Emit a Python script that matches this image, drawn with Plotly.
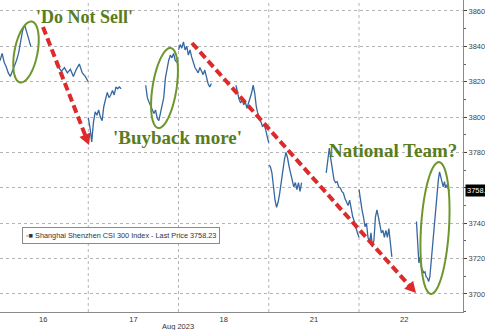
import math
import numpy as np
import plotly.graph_objects as go

# ---- data: CSI 300 intraday, per session (AM 9:30-11:30, PM 13:00-15:00) ----
days = ["16", "17", "18", "21", "22"]

d16_am = [3834, 3832, 3836, 3831, 3828.5, 3825, 3823, 3826, 3828, 3832, 3836, 3842, 3849, 3852, 3848, 3843.6, 3840]
d16_pm = [3830.5, 3828.5, 3826, 3828, 3825, 3827, 3823, 3827, 3830, 3825, 3823, 3820]
d17_am = [3799.5, 3794, 3786, 3797, 3803, 3801, 3804, 3800, 3798, 3806, 3810, 3814, 3811, 3812.5, 3815, 3812.5, 3817, 3816, 3817, 3816]
d17_pm = [3818, 3811, 3808.5, 3806, 3804, 3802, 3804, 3799.5, 3798, 3803, 3806, 3811, 3822, 3828, 3832, 3835, 3833.5, 3836, 3832, 3831, 3832]
d18_am = [3838, 3841, 3839, 3842.5, 3838, 3840, 3835, 3838, 3834, 3830.6, 3828, 3826.6, 3825, 3828, 3825.6, 3824, 3826.6, 3822, 3819, 3817, 3819]
d18_pm = [3818, 3813.6, 3810, 3808, 3810, 3807, 3808.6, 3805, 3808, 3810, 3813.6, 3818, 3813.6, 3806, 3802, 3800, 3797, 3794.5, 3795.6, 3793, 3789, 3785.5]
d21_am = [3773, 3772, 3768.5, 3760.5, 3753, 3749, 3752, 3757, 3764.5, 3771, 3776, 3780, 3777, 3772, 3768.5, 3764.5, 3760.5, 3763, 3759, 3763, 3758, 3763]
d21_pm = [3768.5, 3776, 3782.5, 3776, 3768.5, 3764.5, 3763, 3763.5, 3760.5, 3760, 3758, 3757, 3754, 3752, 3750, 3753, 3747.5, 3743.5, 3741, 3737, 3734.5, 3732]
d22_am = [3759, 3751.5, 3747.5, 3743.5, 3738, 3740, 3732, 3729, 3734.5, 3726.5, 3730.5, 3743.5, 3747.5, 3743.5, 3738, 3734.5, 3736, 3732, 3736, 3732, 3737, 3729, 3721]
d22_pm = [3741, 3729, 3717.5, 3721, 3715, 3713.5, 3712, 3712.5, 3709.6, 3709, 3707, 3709.6, 3717.5, 3725, 3736, 3743.5, 3751.5, 3759, 3764.5, 3769, 3765.6, 3763, 3760.5, 3763.5, 3760, 3761.7, 3759.5, 3758.23]

sessions = [d16_am, d16_pm, d17_am, d17_pm, d18_am, d18_pm, d21_am, d21_pm, d22_am, d22_pm]
last_price = 3758.23
y_ticks = [3700, 3720, 3740, 3760, 3780, 3800, 3820, 3840, 3860]
y_ticklabels = ["3700", "3720", "3740", "", "3780", "3800", "3820", "3840", "3860"]

# trading hours since 9:30: AM 0-2h, PM 3.5-5.5h; each day spans 5.5h = 1 unit
xs, ys = [], []
for i, s in enumerate(sessions):
    d = i // 2
    t0, t1 = (0.0, 2.0) if i % 2 == 0 else (3.5, 5.5)
    t = np.linspace(t0, t1, len(s))
    xs += list(d + t / 5.5) + [None]
    ys += list(s) + [None]

fig = go.Figure()
fig.add_trace(go.Scatter(x=xs, y=ys, mode="lines",
                         line=dict(color="#3567a0", width=1.3),
                         showlegend=False, hoverinfo="skip"))

# ---- layout geometry helpers (plot area in pixels) ----
W_PLOT, H_PLOT = 463, 312
def px(x):
    return x / W_PLOT
def py(y):
    return 1 - y / H_PLOT

GRID = "#b4b4b4"
shapes = []
# vertical day dividers
for d in range(1, 5):
    shapes.append(dict(type="line", xref="x", yref="paper", x0=d, x1=d, y0=0, y1=1,
                       line=dict(color=GRID, width=1, dash="dot"), layer="below"))

GREEN_LINE = "#6f962c"
def ellipse(cx, cy, rx, ry, ang):
    a = math.radians(ang)
    pts = []
    for k in range(72):
        t = 2 * math.pi * k / 72
        ex, ey = rx * math.cos(t), ry * math.sin(t)
        X = cx + ex * math.cos(a) - ey * math.sin(a)
        Y = cy + ex * math.sin(a) + ey * math.cos(a)
        pts.append((px(X), py(Y)))
    path = "M " + " L ".join(f"{p[0]:.5f},{p[1]:.5f}" for p in pts) + " Z"
    return dict(type="path", xref="paper", yref="paper", path=path,
                line=dict(color=GREEN_LINE, width=2))

shapes.append(ellipse(26, 52, 11.5, 31, 11))
shapes.append(ellipse(164.5, 88, 12, 40.5, 9))
shapes.append(ellipse(435, 228, 14, 66, 3.5))

RED = "#dd2a2a"
def dashed_arrow(x0, y0, x1, y1, head_len=11, head_w=12):
    dx, dy = x1 - x0, y1 - y0
    L = math.hypot(dx, dy)
    ux, uy = dx / L, dy / L
    bx, by = x1 - head_len * ux, y1 - head_len * uy
    nx, ny = -uy, ux
    out = [dict(type="line", xref="paper", yref="paper",
                x0=px(x0), y0=py(y0), x1=px(bx + 2 * ux), y1=py(by + 2 * uy),
                line=dict(color=RED, width=4, dash="8px,4px"))]
    p1 = (bx + nx * head_w / 2, by + ny * head_w / 2)
    p2 = (bx - nx * head_w / 2, by - ny * head_w / 2)
    path = (f"M {px(x1):.5f},{py(y1):.5f} L {px(p1[0]):.5f},{py(p1[1]):.5f} "
            f"L {px(p2[0]):.5f},{py(p2[1]):.5f} Z")
    out.append(dict(type="path", xref="paper", yref="paper", path=path,
                    fillcolor=RED, line=dict(color=RED, width=0)))
    return out

shapes += dashed_arrow(43, 27, 89, 145)
shapes += dashed_arrow(192, 43, 416, 293)

GREEN_TXT = "#5a7d1c"
SERIF = "Liberation Serif"
def note(xp, yp, text, **kw):
    d = dict(x=px(xp), y=py(yp), xref="paper", yref="paper", xanchor="center",
             yanchor="middle", text=text, showarrow=False)
    d.update(kw)
    return d

annotations = [
    note(84, 17, "<b>'Do Not Sell'</b>", font=dict(family=SERIF, size=18, color=GREEN_TXT)),
    note(177, 137, "<b>'Buyback more'</b>", font=dict(family=SERIF, size=19, color=GREEN_TXT)),
    note(393, 150, "<b>National Team?</b>", font=dict(family=SERIF, size=19, color=GREEN_TXT)),
    note(121, 235.5,
         "<span style='color:#bbbbbb'>▪</span>■ Shanghai Shenzhen CSI 300 Index - Last Price 3758.23",
         bgcolor="white", bordercolor="#8a8a8a", borderwidth=1, borderpad=3,
         font=dict(family="Liberation Sans", size=7.3, color="#333333")),
    note(178, 326, "Aug 2023", font=dict(family="Liberation Sans", size=7.5, color="#333333")),
    dict(x=1, y=last_price, xref="paper", yref="y", xanchor="left", yanchor="middle", xshift=2,
         text=f"{last_price:.2f}", showarrow=False, bgcolor="black", borderpad=1,
         font=dict(family="Liberation Sans", size=7.5, color="white")),
]

fig.update_layout(
    width=485, height=330,
    margin=dict(l=0, r=22, t=0, b=18),
    plot_bgcolor="white", paper_bgcolor="white",
    shapes=shapes, annotations=annotations,
    xaxis=dict(range=[0.022, 5.152], tickvals=[0.5, 1.5, 2.5, 3.5, 4.5], ticktext=days,
               showgrid=False, zeroline=False, showline=True, linecolor="#8a8a8a",
               ticks="", tickfont=dict(family="Liberation Sans", size=7.5, color="#333333")),
    yaxis=dict(side="right", range=[3689.8, 3866.2], tickvals=y_ticks, ticktext=y_ticklabels,
               showgrid=True, gridcolor=GRID, griddash="dot", gridwidth=1,
               zeroline=False, showline=True, linecolor="#8a8a8a",
               ticks="outside", ticklen=3, tickcolor="#444444",
               minor=dict(dtick=10, ticks="outside", ticklen=2, tickcolor="#666666", showgrid=False),
               tickfont=dict(family="Liberation Sans", size=7.5, color="#444444")),
)

fig.write_html("out.html")
